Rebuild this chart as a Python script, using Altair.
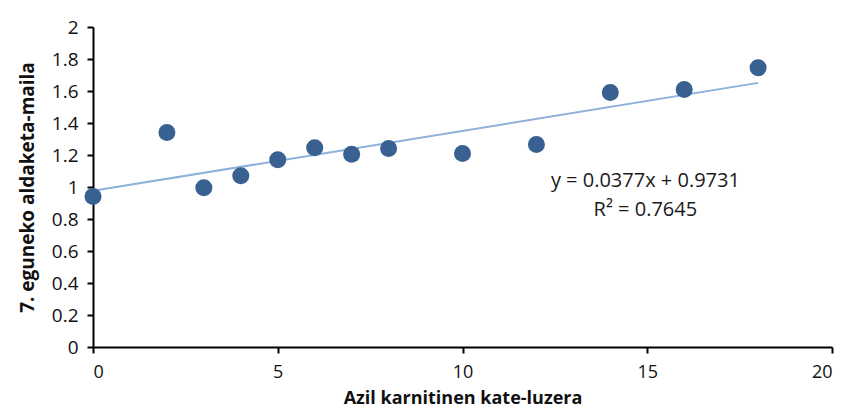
import altair as alt
import pandas as pd

chain_length = [0, 2, 3, 4, 5, 6, 7, 8, 10, 12, 14, 16, 18]
change_ratio = [0.94, 1.34, 0.995, 1.07, 1.17, 1.245, 1.205, 1.24, 1.21, 1.265, 1.59, 1.61, 1.745]

eq_lines = ["y = 0.0377x + 0.9731", "R² = 0.7645"]
eq_x = [14.95, 14.95]
eq_y = [1.035, 0.855]

df = pd.DataFrame({"x": chain_length, "y": change_ratio})
eq_df = pd.DataFrame({"x": eq_x, "y": eq_y, "t": eq_lines})

FONT = "Open Sans"

xscale = alt.Scale(domain=[0, 20], nice=False, zero=False)
yscale = alt.Scale(domain=[0, 2], nice=False)

xaxis = alt.Axis(values=[0, 5, 10, 15, 20], title="Azil karnitinen kate-luzera",
                 grid=False, tickSize=6, labelPadding=10, titlePadding=8,
                 labelFontSize=18, titleFontSize=18)
yaxis = alt.Axis(values=[0, 0.2, 0.4, 0.6, 0.8, 1, 1.2, 1.4, 1.6, 1.8, 2],
                 title="7. eguneko aldaketa-maila", grid=False, tickSize=6,
                 labelPadding=9, titlePadding=14, format="~g")

X = alt.X("x:Q", scale=xscale, axis=xaxis)
Y = alt.Y("y:Q", scale=yscale, axis=yaxis)

points = alt.Chart(df).mark_circle(size=290, opacity=1, color="#386192").encode(x=X, y=Y)

trend = alt.Chart(df).transform_regression("x", "y", method="linear").mark_line(
    color="#8DB1DA", strokeWidth=2
).encode(x=X, y=Y)

text = alt.Chart(eq_df).mark_text(font=FONT, fontSize=20, color="#1a1a1a", align="center",
                                  baseline="middle").encode(x=X, y=Y, text="t:N")

chart = (trend + points + text).properties(
    width=739, height=320,
    autosize=alt.AutoSizeParams(type="none"),
    padding={"left": 93, "top": 27, "right": 14, "bottom": 68},
    background="white",
).configure_view(stroke=None).configure_axis(
    domainColor="black", domainWidth=2, tickColor="black", tickWidth=2,
    labelFont=FONT, labelFontSize=19, labelColor="#111",
    titleFont=FONT, titleFontSize=19, titleFontWeight="bold", titleColor="#111",
)

chart.save("out.html", embed_options={"renderer": "svg", "actions": False})
